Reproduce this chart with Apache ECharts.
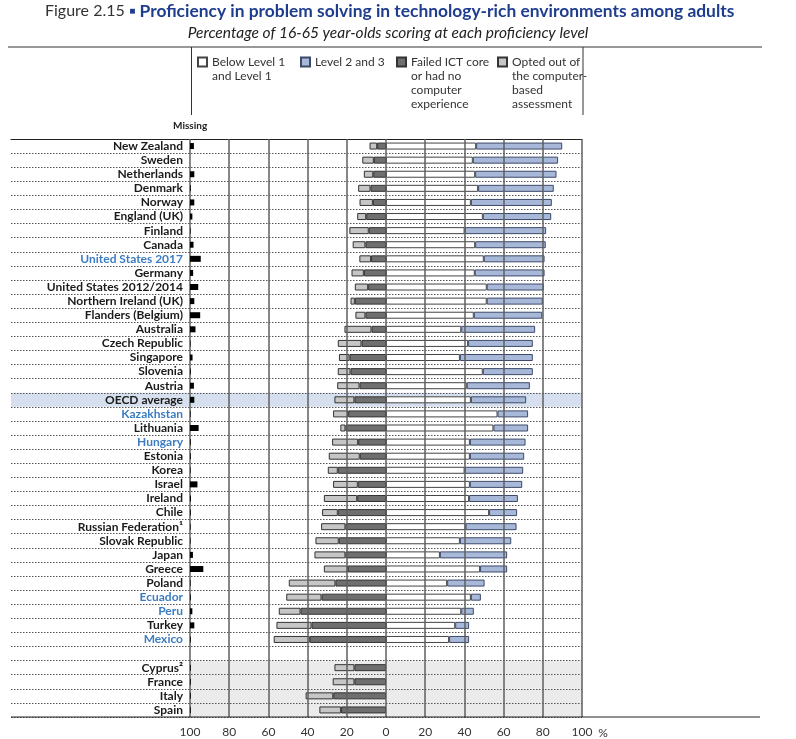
<!DOCTYPE html>
<html><head><meta charset="utf-8">
<script src="https://cdn.jsdelivr.net/npm/echarts@6/dist/echarts.min.js"></script>
<style>html,body{margin:0;padding:0;background:#fff}#c{width:796px;height:739px}</style>
</head><body><div id="c"></div>
<script>
const countries = ['New Zealand','Sweden','Netherlands','Denmark','Norway','England (UK)','Finland','Canada','United States 2017','Germany','United States 2012/2014','Northern Ireland (UK)','Flanders (Belgium)','Australia','Czech Republic','Singapore','Slovenia','Austria','OECD average','Kazakhstan','Lithuania','Hungary','Estonia','Korea','Israel','Ireland','Chile','Russian Federation¹','Slovak Republic','Japan','Greece','Poland','Ecuador','Peru','Turkey','Mexico','','Cyprus²','France','Italy','Spain'];
const partners = ['United States 2017','Kazakhstan','Hungary','Ecuador','Peru','Mexico'];
const highlightRow = 'OECD average';
const shadedRows = ['Cyprus²','France','Italy','Spain'];
const failedICT = [4.5,6.2,6.5,7.9,6.7,10.1,8.8,10.5,7.6,11.3,9.1,15.9,10.5,7.4,12.5,18.6,18.1,13.5,16.1,19.3,20.7,14.2,13.4,24.6,14.4,14.7,24.6,20.7,24.1,20.7,19.5,25.8,32.9,43.6,38.0,38.9,null,16.1,16.1,26.9,22.9];
const optedOut = [3.9,5.9,4.8,6.3,6.8,4.6,9.9,6.5,6.0,6.3,6.8,2.2,5.1,13.8,12.1,5.4,6.5,11.4,10.2,7.7,2.6,13.3,15.8,5.1,12.6,17.0,8.0,12.4,11.9,15.8,12.2,23.8,18.0,11.1,17.9,18.4,null,10.2,11.1,14.1,11.1];
const belowLevel1 = [46.0,44.3,45.5,47.0,43.3,49.4,40.1,45.5,49.9,45.3,51.4,51.4,44.8,38.4,41.9,37.7,49.4,41.2,43.3,56.9,54.8,42.8,42.8,40.1,42.8,42.4,52.6,40.6,37.7,27.5,48.0,31.2,43.3,38.4,35.3,32.2,null,null,null,null,null];
const level2and3 = [43.9,43.5,41.5,38.6,41.3,34.9,41.6,36.0,31.0,35.6,29.1,28.6,34.9,37.7,33.0,37.2,25.5,32.2,28.2,15.6,17.7,28.4,27.7,29.9,26.7,24.9,14.3,26.0,26.2,34.3,13.8,19.1,5.1,6.4,7.1,10.2,null,null,null,null,null];
const missing = [2.0,0,2.2,0.4,2.2,1.2,0.3,1.8,5.5,1.6,4.2,2.2,5.2,2.8,0.3,1.3,0.4,2.0,2.2,0.3,4.4,0.4,0.4,0.3,3.8,0.5,0.4,0.3,0.3,1.5,6.8,0.3,0.4,1.2,2.2,0.4,null,0.4,0.4,0.4,0.4];

const FONT = 'Lato, "Open Sans", sans-serif';
const TOP = 139, BOTTOM = 22;

const legendDefs = [
  {name:'Below Level 1 and Level 1', lines:['Below Level 1','and Level 1'], left:197},
  {name:'Level 2 and 3', lines:['Level 2 and 3'], left:300},
  {name:'Failed ICT core or had no computer experience', lines:['Failed ICT core','or had no','computer','experience'], left:396},
  {name:'Opted out of the computer-based assessment', lines:['Opted out of','the computer-','based','assessment'], left:497}
];

const chart = echarts.init(document.getElementById('c'), null, {renderer:'canvas'});
const neg = a => a.map(v => v == null ? null : -v);
const barBase = {type:'bar', stack:'main', xAxisIndex:2, yAxisIndex:2, barWidth:7, z:2};

const option = {
  backgroundColor:'#fff',
  animation:false,
  textStyle:{fontFamily:FONT},
  title:[
    {left:45, top:2, padding:0,
     text:'{f|Figure 2.15} {s|■} {t|Proficiency in problem solving in technology-rich environments among adults}',
     textStyle:{rich:{
       f:{fontFamily:FONT, fontSize:16, color:'#333', fontWeight:'normal'},
       s:{fontFamily:FONT, fontSize:10, color:'#1f3d8f'},
       t:{fontFamily:FONT, fontSize:17.4, fontWeight:'bold', color:'#1f3d8f'}
     }}},
    {left:388, top:25, padding:0, textAlign:'center',
     text:'Percentage of 16-65 year-olds scoring at each proficiency level',
     textStyle:{fontFamily:FONT, fontSize:15.5, fontStyle:'italic', fontWeight:'normal', color:'#222'}}
  ],
  legend: legendDefs.map(d => ({
    data:[d.name], left:d.left, top:55, padding:0, orient:'horizontal', selectedMode:false,
    itemWidth:9, itemHeight:14*d.lines.length-5, itemGap:0,
    icon: d.lines.length > 1 ? 'path://M0,0h9v9h-9z M0,' + (14*d.lines.length-5) : 'rect',
    formatter: () => d.lines.join('\n'),
    textStyle:{fontFamily:FONT, fontSize:12, lineHeight:14, color:'#333'}
  })),
  grid:[
    {left:11, right:214, top:TOP, bottom:BOTTOM, outerBoundsMode:'none', containLabel:false},
    {left:190, right:214, top:TOP, bottom:BOTTOM, outerBoundsMode:'none', containLabel:false},
    {left:190, right:214, top:TOP, bottom:BOTTOM, outerBoundsMode:'none', containLabel:false},
    {left:190, width:196, top:TOP, bottom:BOTTOM, outerBoundsMode:'none', containLabel:false}
  ],
  xAxis:[
    {gridIndex:0, type:'value', min:0, max:1, position:'top', z:1,
     axisLine:{show:true, lineStyle:{color:'#222', width:1.2}}, axisTick:{show:false}, axisLabel:{show:false}, splitLine:{show:false}},
    {gridIndex:1, type:'value', min:0, max:1, show:false},
    {gridIndex:2, type:'value', min:-100, max:100, interval:20, z:3,
     axisLine:{show:false}, axisTick:{show:false},
     axisLabel:{margin:9, fontFamily:FONT, fontSize:12, color:'#333', formatter:v => String(Math.abs(v))},
     splitLine:{show:true, lineStyle:{color:'#5f5f5f', width:1.5, type:'solid'}},
     name:'%', nameLocation:'end', nameGap:12,
     nameTextStyle:{fontFamily:FONT, fontSize:12, color:'#333', align:'left', verticalAlign:'top', padding:[10,0,0,0]}},
    {gridIndex:3, type:'value', min:0, max:100, show:false}
  ],
  yAxis:[
    {gridIndex:0, type:'category', data:countries, inverse:true, z:1,
     axisLine:{show:false}, axisTick:{show:false}, axisLabel:{show:false},
     splitLine:{show:true, interval:0, lineStyle:{color:'#555', width:1, type:[1.5,1.5]}}},
    {gridIndex:1, type:'category', data:countries, inverse:true, show:false},
    {gridIndex:2, type:'category', data:countries, inverse:true,
     axisLine:{show:false}, axisTick:{show:false}, splitLine:{show:false},
     axisLabel:{interval:0, margin:7, formatter:v => v === '' ? '' : (partners.includes(v) ? '{p|' + v + '}' : '{b|' + v + '}'),
       rich:{
         b:{fontFamily:FONT, fontSize:12, fontWeight:'bold', color:'#1a1a1a'},
         p:{fontFamily:FONT, fontSize:12, fontWeight:'bold', color:'#3b7cc2'}
       }}},
    {gridIndex:3, type:'category', data:countries, inverse:true, show:false}
  ],
  series:[
    {type:'bar', name:'highlight', xAxisIndex:0, yAxisIndex:0, barWidth:'100%', z:0, silent:true,
     itemStyle:{color:'#d6dfed'},
     data:countries.map(c => c === highlightRow ? 1 : null)},
    {type:'bar', name:'shade', xAxisIndex:1, yAxisIndex:1, barWidth:'100%', z:0, silent:true,
     itemStyle:{color:'#ebebeb'},
     data:countries.map(c => shadedRows.includes(c) ? 1 : null)},
    Object.assign({}, barBase, {name:'Failed ICT core or had no computer experience', data:neg(failedICT),
      itemStyle:{color:'#6f6f6f', borderColor:'#333', borderWidth:1}}),
    Object.assign({}, barBase, {name:'Opted out of the computer-based assessment', data:neg(optedOut),
      itemStyle:{color:'#c6c6c6', borderColor:'#333', borderWidth:1}}),
    Object.assign({}, barBase, {name:'Below Level 1 and Level 1', data:belowLevel1,
      itemStyle:{color:'#ffffff', borderColor:'#444', borderWidth:1}}),
    Object.assign({}, barBase, {name:'Level 2 and 3', data:level2and3,
      itemStyle:{color:'#a8b8d9', borderColor:'#3c4a68', borderWidth:1}}),
    {type:'bar', name:'Missing', xAxisIndex:3, yAxisIndex:3, barWidth:6, z:4,
     itemStyle:{color:'#000'}, data:missing}
  ],
  graphic:[
    {type:'line', z:20, shape:{x1:8, y1:47, x2:762, y2:47}, style:{stroke:'#333', lineWidth:1.2}, silent:true},
    {type:'line', z:20, shape:{x1:191.5, y1:47, x2:191.5, y2:115}, style:{stroke:'#333', lineWidth:1}, silent:true},
    {type:'line', z:20, shape:{x1:583, y1:47, x2:583, y2:115}, style:{stroke:'#333', lineWidth:1}, silent:true},
    {type:'line', z:20, shape:{x1:11, y1:717, x2:760, y2:717}, style:{stroke:'#222', lineWidth:1.2}, silent:true},
    {type:'text', z:20, left:173, top:121, style:{text:'Missing', font:'bold 10px Lato, sans-serif', fill:'#222'}, silent:true}
  ]
};
chart.setOption(option);
</script></body></html>
